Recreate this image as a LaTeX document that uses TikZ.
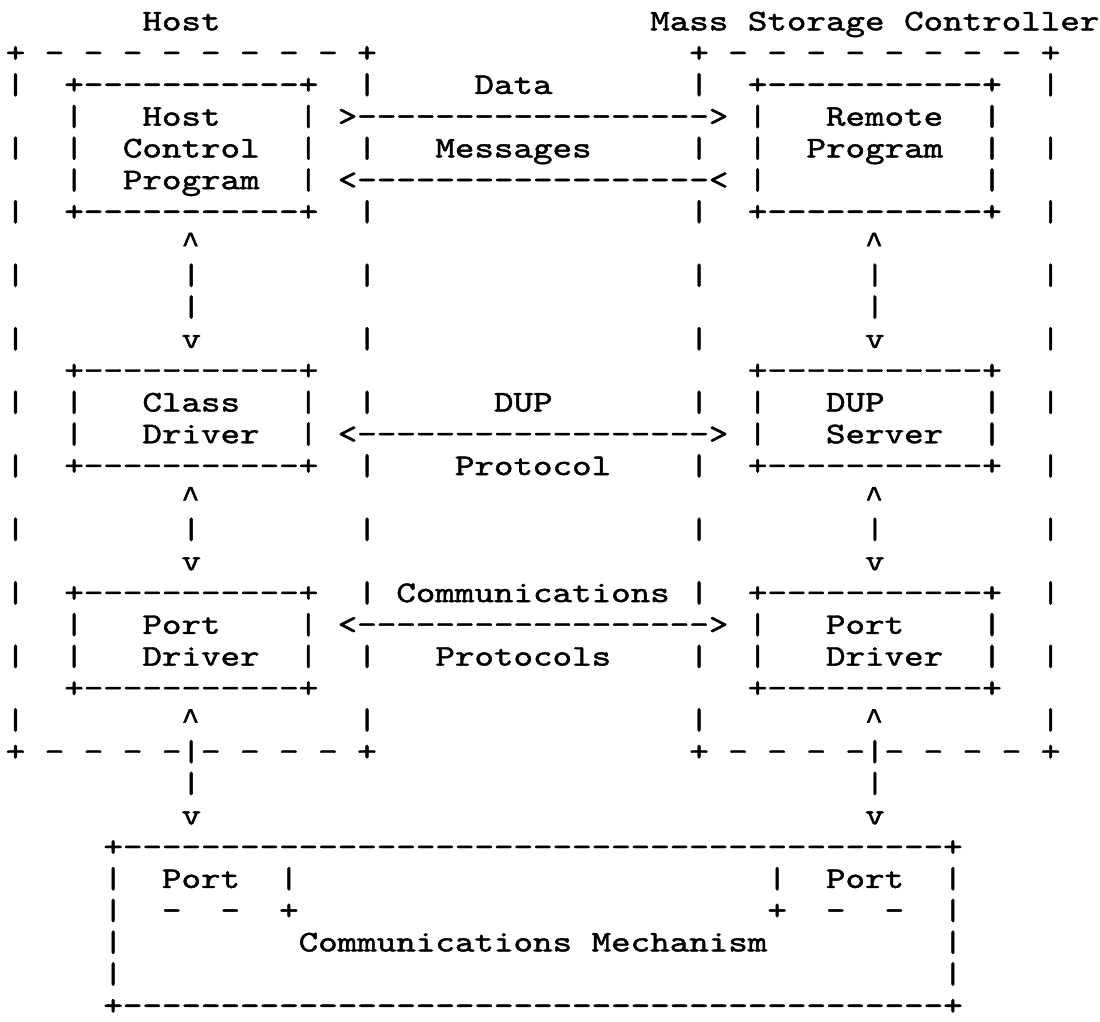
\documentclass[tikz,border=0pt]{standalone}
\usepackage{fontspec}
\setmonofont[FakeBold=1.5, FakeStretch=1.24]{lmmono10-regular.otf}
\newfontfamily\caretfont[FakeBold=1.5]{Liberation Mono}
\newcommand{\caret}{{\caretfont\textasciicircum}}

% one character cell is 9.765pt wide, one line 15.88pt high
\tikzset{
  ch/.style={font=\ttfamily\fontsize{15pt}{16pt}\selectfont,
    inner sep=0pt, outer sep=0pt, anchor=base west, xshift=-4.88pt},
}

\begin{document}
\begin{tikzpicture}[x=9.765pt, y=-15.88pt]
\useasboundingbox (-0.7937,-0.957) rectangle (55.53,31.222);

% titles
\node[ch] (host) at (7,0) {Host};
\node[ch] (msc) at (33,0) {Mass Storage Controller};

% dashed outlines of the two machines
\foreach \c/\n in {0/h, 35/m} {
  \node[ch] (\n-top) at (\c,1) {+ - - - - - - - - +};
  \node[ch] (\n-bot) at (\c,23) {+ - - - -|- - - - +};
  \foreach \r in {2,4,...,22} {
    \node[ch] (\n-l\r) at (\c,\r) {|};
    \node[ch] (\n-r\r) at (\c+18,\r) {|};
  }
}

% the six inner boxes: column/top row/bottom row/name
\foreach \c/\t/\b/\n in {3/2/6/hcp, 38/2/6/rp, 3/11/14/cd, 38/11/14/ds, 3/18/21/hpd, 38/18/21/mpd} {
  \node[ch] (\n-top) at (\c,\t) {+-----------+};
  \node[ch] (\n-bot) at (\c,\b) {+-----------+};
  \pgfmathtruncatemacro{\first}{\t+1}
  \pgfmathtruncatemacro{\last}{\b-1}
  \foreach \r in {\first,...,\last} {
    \node[ch] (\n-l\r) at (\c,\r) {|};
    \node[ch] (\n-r\r) at (\c+12,\r) {|};
  }
}
\node[ch] (hcp-1) at (7,3) {Host};
\node[ch] (hcp-2) at (6,4) {Control};
\node[ch] (hcp-3) at (6,5) {Program};
\node[ch] (rp-1) at (42,3) {Remote};
\node[ch] (rp-2) at (41,4) {Program};
\node[ch] (cd-1) at (7,12) {Class};
\node[ch] (cd-2) at (7,13) {Driver};
\node[ch] (ds-1) at (42,12) {DUP};
\node[ch] (ds-2) at (42,13) {Server};
\node[ch] (hpd-1) at (7,19) {Port};
\node[ch] (hpd-2) at (7,20) {Driver};
\node[ch] (mpd-1) at (42,19) {Port};
\node[ch] (mpd-2) at (42,20) {Driver};

% links between host and controller
\node[ch] (data) at (24,2) {Data};
\node[ch] (msg) at (22,4) {Messages};
\node[ch] (dm-in) at (17,3) {>------------------>};
\node[ch] (dm-out) at (17,5) {<------------------<};
\node[ch] (dup) at (25,12) {DUP};
\node[ch] (dup-arr) at (17,13) {<------------------>};
\node[ch] (proto) at (23,14) {Protocol};
\node[ch] (comm) at (20,18) {Communications};
\node[ch] (comm-arr) at (17,19) {<------------------>};
\node[ch] (protos) at (22,20) {Protocols};

% vertical links inside each machine
\foreach \c/\n in {9/h, 44/m} {
  \node[ch] (\n-up1) at (\c,7) {\caret};
  \node[ch] (\n-v8) at (\c,8) {|};
  \node[ch] (\n-v9) at (\c,9) {|};
  \node[ch] (\n-dn1) at (\c,10) {v};
  \node[ch] (\n-up2) at (\c,15) {\caret};
  \node[ch] (\n-v16) at (\c,16) {|};
  \node[ch] (\n-dn2) at (\c,17) {v};
  \node[ch] (\n-up3) at (\c,22) {\caret};
  \node[ch] (\n-v24) at (\c,24) {|};
  \node[ch] (\n-dn3) at (\c,25) {v};
}

% communications mechanism
\node[ch] (cm-top) at (5,26) {+------------------------------------------+};
\node[ch] (cm-bot) at (5,31) {+------------------------------------------+};
\foreach \r in {27,...,30} {
  \node[ch] (cm-l\r) at (5,\r) {|};
  \node[ch] (cm-r\r) at (48,\r) {|};
}
\node[ch] (hport) at (8,27) {Port};
\node[ch] (hport-r) at (14,27) {|};
\node[ch] (hport-b) at (8,28) {-~~-~~+};
\node[ch] (mport-l) at (39,27) {|};
\node[ch] (mport) at (42,27) {Port};
\node[ch] (mport-b) at (39,28) {+~~-~~-};
\node[ch] (cm) at (15,29) {Communications Mechanism};
\end{tikzpicture}
\end{document}
